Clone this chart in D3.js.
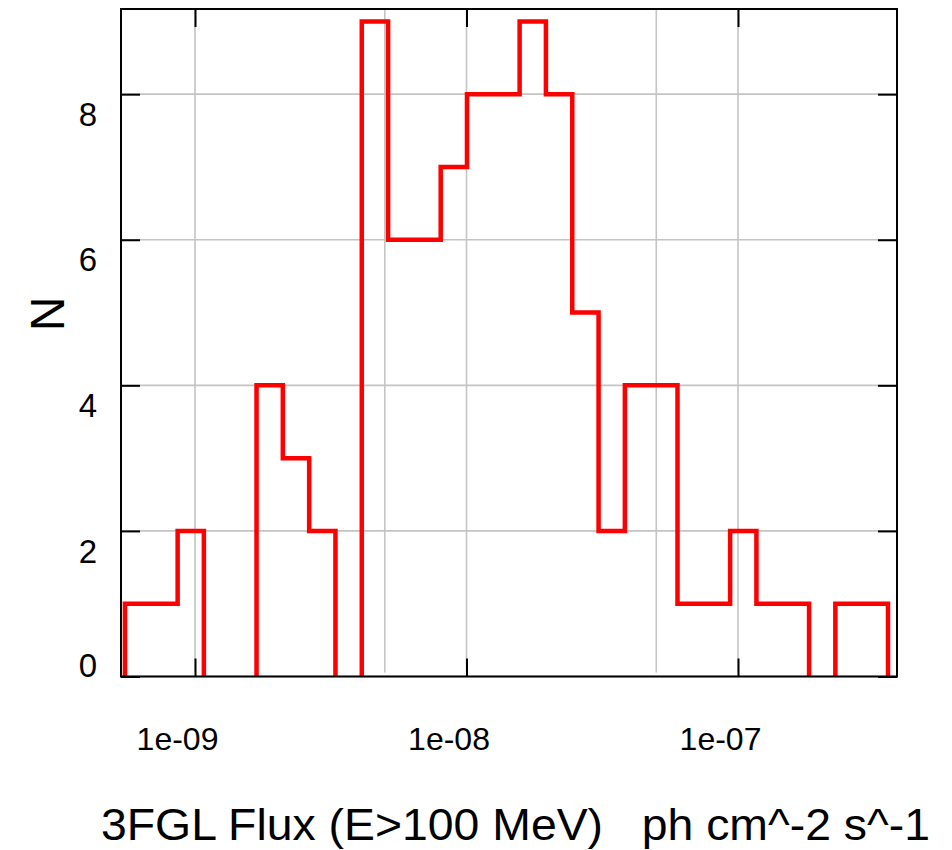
<!DOCTYPE html>
<html>
<head>
<meta charset="utf-8">
<script src="https://cdn.jsdelivr.net/npm/d3@7"></script>
<style>
  body { margin: 0; background: #fff; }
  text { font-family: "Liberation Sans", Arial, sans-serif; fill: #000; }
</style>
</head>
<body>
<script>
const width = 952;
const height = 850;

// Histogram bin edges (flux, ph cm^-2 s^-1)
const binEdges = [
    5.52e-10, 6.90e-10, 8.63e-10, 1.078e-9, 1.348e-9, 1.685e-9, 2.106e-9, 2.633e-9,
    3.291e-9, 4.114e-9, 5.142e-9, 6.428e-9, 8.035e-9, 1.004e-8, 1.255e-8, 1.569e-8,
    1.961e-8, 2.452e-8, 3.065e-8, 3.831e-8, 4.789e-8, 5.986e-8, 7.482e-8, 9.353e-8,
    1.169e-7, 1.461e-7, 1.827e-7, 2.283e-7, 2.854e-7, 3.568e-7
];
// Counts per bin
const counts = [1, 1, 2, 0, 0, 4, 3, 2, 0, 9, 6, 6, 7, 8, 8, 9, 8, 5, 2, 4, 4, 1, 1, 2, 1, 1, 0, 1, 1];

const xMajorTicks = [1e-9, 1e-8, 1e-7];
const xTickLabels = ["1e-09", "1e-08", "1e-07"];
const xGridValues = [1e-9, 5e-9, 1e-8, 5e-8, 1e-7];
const yTicks = [0, 2, 4, 6, 8];

const xTitle = "3FGL Flux (E>100 MeV)   ph cm^-2 s^-1";
const yTitle = "N";

const plot = { left: 121, right: 897, top: 9, bottom: 676.5 };

const svg = d3.select("body").append("svg")
    .attr("width", width)
    .attr("height", height);

const x = d3.scaleLog()
    .domain([Math.pow(10, -9.2726), Math.pow(10, -6.4144)])
    .range([plot.left, plot.right]);

const y = d3.scaleLinear()
    .domain([0, 9.17])
    .range([plot.bottom, plot.top]);

// grid
const grid = svg.append("g").attr("class", "grid");
grid.selectAll("line.gx")
    .data(xGridValues)
    .enter().append("line")
    .attr("x1", d => x(d)).attr("x2", d => x(d))
    .attr("y1", plot.top).attr("y2", plot.bottom - 4)
    .attr("stroke", "#c4c4c4")
    .attr("stroke-width", 1.6);
grid.selectAll("line.gy")
    .data(yTicks)
    .enter().append("line")
    .attr("x1", plot.left).attr("x2", plot.right)
    .attr("y1", d => y(d)).attr("y2", d => y(d))
    .attr("stroke", "#c4c4c4")
    .attr("stroke-width", 1.6);

// histogram steps: one path per run of non-empty bins
const runs = [];
let cur = null;
counts.forEach((c, i) => {
    if (c > 0) {
        if (!cur) { cur = [[binEdges[i], 0]]; runs.push(cur); }
        cur.push([binEdges[i], c], [binEdges[i + 1], c]);
    } else if (cur) {
        cur.push([binEdges[i], 0]);
        cur = null;
    }
});
if (cur) cur.push([binEdges[counts.length], 0]);

const line = d3.line()
    .x(d => x(d[0]))
    .y(d => y(d[1]));

svg.append("g")
    .selectAll("path")
    .data(runs)
    .enter().append("path")
    .attr("d", line)
    .attr("fill", "none")
    .attr("stroke", "#ff0000")
    .attr("stroke-width", 4.5)
    .attr("stroke-linejoin", "miter");

// frame
svg.append("rect")
    .attr("x", plot.left).attr("y", plot.top)
    .attr("width", plot.right - plot.left)
    .attr("height", plot.bottom - plot.top)
    .attr("fill", "none")
    .attr("stroke", "#000")
    .attr("stroke-width", 2);

// axes with inward ticks
const xBottom = svg.append("g")
    .attr("transform", `translate(0,${plot.bottom})`)
    .call(d3.axisBottom(x).tickValues(xMajorTicks).tickSizeInner(-18).tickSizeOuter(0)
        .tickFormat((d, i) => xTickLabels[i]));
xBottom.select(".domain").remove();
xBottom.selectAll(".tick line").attr("stroke", "#000").attr("stroke-width", 2);
xBottom.selectAll(".tick text")
    .attr("y", 73)
    .attr("dy", 0)
    .attr("dx", -18)
    .style("font-size", "32px")
    .style("font-family", "'Liberation Sans', Arial, sans-serif");

const xTop = svg.append("g")
    .attr("transform", `translate(0,${plot.top})`)
    .call(d3.axisTop(x).tickValues(xMajorTicks).tickSizeInner(-18).tickSizeOuter(0).tickFormat(""));
xTop.select(".domain").remove();
xTop.selectAll(".tick line").attr("stroke", "#000").attr("stroke-width", 2);

const yLeft = svg.append("g")
    .attr("transform", `translate(${plot.left},0)`)
    .call(d3.axisLeft(y).tickValues(yTicks).tickSizeInner(-19).tickSizeOuter(0));
yLeft.select(".domain").remove();
yLeft.selectAll(".tick line").attr("stroke", "#000").attr("stroke-width", 2);
yLeft.selectAll(".tick text")
    .attr("x", -24)
    .attr("dy", d => d === 0 ? "0em" : "0.7em")
    .attr("y", d => d === 0 ? 0 : 8)
    .style("font-size", "33px")
    .style("font-family", "'Liberation Sans', Arial, sans-serif");

const yRight = svg.append("g")
    .attr("transform", `translate(${plot.right},0)`)
    .call(d3.axisRight(y).tickValues(yTicks).tickSizeInner(-19).tickSizeOuter(0).tickFormat(""));
yRight.select(".domain").remove();
yRight.selectAll(".tick line").attr("stroke", "#000").attr("stroke-width", 2);

// titles
svg.append("text")
    .attr("x", 101)
    .attr("y", 840)
    .attr("textLength", 829)
    .attr("lengthAdjust", "spacingAndGlyphs")
    .style("white-space", "pre")
    .style("font-size", "45px")
    .text(xTitle);

svg.append("text")
    .attr("transform", "translate(64,314) rotate(-90)")
    .attr("text-anchor", "middle")
    .style("font-size", "48px")
    .text(yTitle);
</script>
</body>
</html>
